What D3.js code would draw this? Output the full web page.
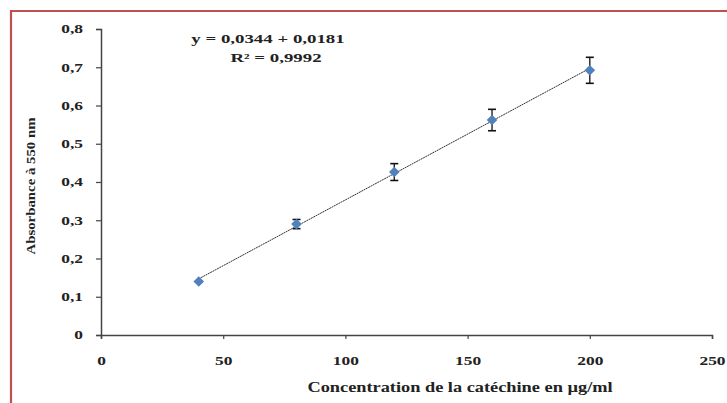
<!DOCTYPE html>
<html>
<head>
<meta charset="utf-8">
<script src="https://cdn.jsdelivr.net/npm/d3@7"></script>
<style>
  body { margin: 0; background: #fff; }
  text { font-family: "Liberation Serif", "DejaVu Serif", serif; font-weight: bold; }
</style>
</head>
<body>
<svg id="chart"></svg>
<script>
// Data
var concentrations = [40, 80, 120, 160, 200];
var absorbances = [0.14, 0.29, 0.426, 0.562, 0.692];
var errors = [0.004, 0.012, 0.022, 0.028, 0.034];
var xTicks = [0, 50, 100, 150, 200, 250];
var yTicks = [0, 0.1, 0.2, 0.3, 0.4, 0.5, 0.6, 0.7, 0.8];
var equationText = "y = 0,0344 + 0,0181";
var r2Text = "R² = 0,9992";

var svgWidth = 727;
var svgHeight = 403;
var margin = { top: 29, right: 15, bottom: 68, left: 101 };
var chartWidth = 712 - margin.left;
var chartHeight = 335 - margin.top;
var stretch = 1.45; // the reference text is drawn wide

var svg = d3.select("#chart")
  .attr("width", svgWidth)
  .attr("height", svgHeight);

// Red frame (cropped on right and bottom)
svg.append("path")
  .attr("d", "M11," + (svgHeight + 5) + " L11,11 L" + (svgWidth + 5) + ",11")
  .attr("fill", "none")
  .attr("stroke", "#C0504D")
  .attr("stroke-width", 2.2);

var chart = svg.append("g")
  .attr("transform", "translate(" + margin.left + "," + margin.top + ")");

var xScale = d3.scaleLinear().domain([0, 250]).range([0, chartWidth]);
var yScale = d3.scaleLinear().domain([0, 0.8]).range([chartHeight, 0]);

var fmt = function (d) { return d === 0 ? "0" : d3.format(".1f")(d).replace(".", ","); };

// y axis
var yAxis = chart.append("g")
  .call(d3.axisLeft(yScale).tickValues(yTicks).tickSize(5).tickPadding(13).tickFormat(fmt));
yAxis.select(".domain").attr("stroke", "#444").attr("stroke-width", 1.5);
yAxis.selectAll(".tick line").attr("stroke", "#444").attr("stroke-width", 1.2);
yAxis.selectAll("text")
  .style("font-size", "12px")
  .attr("fill", "#222")
  .attr("x", -18 / stretch)
  .attr("transform", "scale(" + stretch + ",1)");

// x axis
var xAxis = chart.append("g")
  .attr("transform", "translate(0," + chartHeight + ")")
  .call(d3.axisBottom(xScale).tickValues(xTicks).tickSize(4).tickPadding(17));
xAxis.select(".domain").attr("stroke", "#444").attr("stroke-width", 1.5);
xAxis.selectAll(".tick line").attr("stroke", "#444").attr("stroke-width", 1.2);
xAxis.selectAll("text")
  .style("font-size", "12px")
  .attr("fill", "#222")
  .attr("transform", "scale(" + stretch + ",1)");

// Linear fit through the points
var mx = d3.mean(concentrations), my = d3.mean(absorbances);
var sxy = 0, sxx = 0;
concentrations.forEach(function (x, i) {
  sxy += (x - mx) * (absorbances[i] - my);
  sxx += (x - mx) * (x - mx);
});
var slope = sxy / sxx;
var intercept = my - slope * mx;
var xMin = d3.min(concentrations), xMax = d3.max(concentrations);

chart.append("line")
  .attr("x1", xScale(xMin))
  .attr("y1", yScale(slope * xMin + intercept))
  .attr("x2", xScale(xMax))
  .attr("y2", yScale(slope * xMax + intercept))
  .attr("stroke", "#333")
  .attr("stroke-width", 1)
  .attr("stroke-dasharray", "2,0.6");

// Error bars
var points = concentrations.map(function (c, i) {
  return { x: c, y: absorbances[i], e: errors[i] };
});

var eb = chart.selectAll(".err")
  .data(points)
  .enter()
  .append("g")
  .attr("class", "err");

eb.append("line")
  .attr("x1", function (d) { return xScale(d.x); })
  .attr("x2", function (d) { return xScale(d.x); })
  .attr("y1", function (d) { return yScale(d.y + d.e); })
  .attr("y2", function (d) { return yScale(d.y - d.e); })
  .attr("stroke", "#111")
  .attr("stroke-width", 1.3);

[1, -1].forEach(function (s) {
  eb.append("line")
    .attr("x1", function (d) { return xScale(d.x) - 4; })
    .attr("x2", function (d) { return xScale(d.x) + 4; })
    .attr("y1", function (d) { return yScale(d.y + s * d.e); })
    .attr("y2", function (d) { return yScale(d.y + s * d.e); })
    .attr("stroke", "#111")
    .attr("stroke-width", 1.6)
    .attr("display", function (d) { return d.e < 0.006 ? "none" : null; });
});

// Markers
chart.selectAll(".pt")
  .data(points)
  .enter()
  .append("path")
  .attr("class", "pt")
  .attr("d", d3.symbol().type(d3.symbolDiamond2).size(72))
  .attr("transform", function (d) { return "translate(" + xScale(d.x) + "," + yScale(d.y) + ")"; })
  .attr("fill", "#4F81BD");

// stretched text helper
function wideText(x, y, size, sx, str, rotate) {
  svg.append("text")
    .attr("transform", "translate(" + x + "," + y + ")" + (rotate ? " rotate(-90)" : "") + " scale(" + sx + ",1)")
    .attr("text-anchor", "middle")
    .style("font-size", size + "px")
    .attr("fill", "#222")
    .text(str);
}

// Equation
wideText(268, 43, 13, stretch, equationText);
wideText(276, 62, 13, stretch, r2Text);

// Axis titles
wideText(35, 186, 13, 1.14, "Absorbance à 550 nm", true);
wideText(460, 392, 14, 1.31, "Concentration de la catéchine en µg/ml");
</script>
</body>
</html>
